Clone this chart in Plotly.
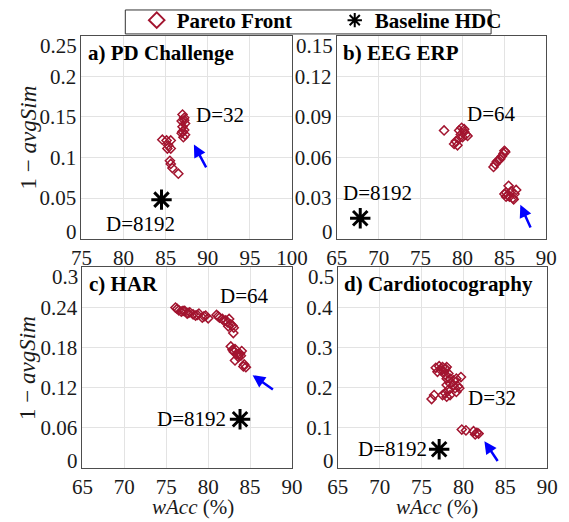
import plotly.graph_objects as go

# ---------------- data ----------------
pd_x = [87.0, 87.2, 86.9, 87.3, 87.0, 87.2, 86.9, 87.3, 87.1, 87.0, 87.2,
        84.6, 85.1, 85.6, 85.3, 85.2, 85.6, 85.5, 85.6, 85.8, 86.5]
pd_y = [0.153, 0.149, 0.145, 0.142, 0.138, 0.134, 0.130, 0.128, 0.125, 0.132, 0.146,
        0.122, 0.121, 0.121, 0.115, 0.111, 0.111, 0.096, 0.092, 0.087, 0.080]

eeg_x = [77.8, 79.6, 79.9, 80.2, 80.4, 79.8, 79.2, 79.0, 79.4, 80.0, 80.6, 80.2, 79.6,
         85.0, 84.9, 84.7, 84.5, 84.1, 83.9, 83.7, 84.3, 85.1,
         85.2, 85.5, 85.6, 86.0, 85.2, 85.8, 86.2, 86.4, 85.4, 85.0, 86.1]
eeg_y = [0.080, 0.080, 0.082, 0.079, 0.077, 0.077, 0.072, 0.070, 0.069, 0.075, 0.076, 0.081, 0.074,
         0.065, 0.063, 0.061, 0.059, 0.057, 0.055, 0.053, 0.058, 0.064,
         0.034, 0.039, 0.031, 0.030, 0.031, 0.035, 0.033, 0.036, 0.032, 0.033, 0.029]

har_x = [76.1, 76.3, 76.5, 76.8, 77.0, 77.2, 77.5, 77.6, 77.8, 78.2, 78.5, 78.7, 78.9, 79.3, 79.5, 79.7, 80.0,
         81.0, 81.2, 81.35, 81.7, 81.9, 82.1, 82.3, 82.4, 82.5, 82.7, 82.9, 83.05, 83.0,
         82.7, 82.9, 83.05, 83.2, 83.4, 83.6, 83.8, 83.9, 84.0, 83.6, 83.2, 84.2, 84.3, 84.5]
har_y = [0.240, 0.238, 0.236, 0.234, 0.235, 0.235, 0.231, 0.232, 0.233, 0.230, 0.228, 0.229, 0.231, 0.225, 0.227, 0.228, 0.224,
         0.229, 0.227, 0.225, 0.223, 0.220, 0.221, 0.218, 0.212, 0.223, 0.215, 0.213, 0.210, 0.202,
         0.182, 0.177, 0.174, 0.178, 0.171, 0.170, 0.171, 0.168, 0.175, 0.166, 0.161, 0.152, 0.155, 0.151]

ctg_x = [76.7, 77.1, 77.5, 77.85, 78.0, 77.3, 77.7, 78.2, 76.9, 77.85, 78.0, 78.4, 78.8, 79.15, 79.7,
         78.4, 78.8, 79.35, 79.0, 79.5, 78.0, 78.2, 77.85, 78.4, 77.5, 78.0, 76.2, 76.5, 79.15,
         79.8, 80.3, 81.2, 81.4, 81.6, 81.8]
ctg_y = [0.250, 0.254, 0.252, 0.248, 0.252, 0.244, 0.240, 0.236, 0.240, 0.232, 0.223, 0.223, 0.219, 0.223, 0.227,
         0.211, 0.207, 0.204, 0.199, 0.199, 0.207, 0.195, 0.186, 0.182, 0.182, 0.178, 0.172, 0.182, 0.190,
         0.096, 0.094, 0.092, 0.084, 0.088, 0.086]

base_x = [84.5, 67.8, 83.8, 77.1]
base_y = [0.048, 0.015, 0.073, 0.047]

panel_titles = ["a) PD Challenge", "b) EEG ERP", "c) HAR", "d) Cardiotocography"]
x_ranges = [[75, 100], [65, 90], [65, 90], [65, 90]]
x_ticks = [[75, 80, 85, 90, 95, 100], [65, 70, 75, 80, 85, 90], [65, 70, 75, 80, 85, 90], [65, 70, 75, 80, 85, 90]]
y_ranges = [[0, 0.25], [0, 0.15], [0, 0.3], [0, 0.5]]
y_ticks = [[0, 0.05, 0.1, 0.15, 0.2, 0.25], [0, 0.03, 0.06, 0.09, 0.12, 0.15],
           [0, 0.06, 0.12, 0.18, 0.24, 0.3], [0, 0.1, 0.2, 0.3, 0.4, 0.5]]
y_ticktext = [["0", "0.05", "0.1", "0.15", "0.2", "0.25"], ["0", "0.03", "0.06", "0.09", "0.12", "0.15"],
              ["0", "0.06", "0.12", "0.18", "0.24", "0.3"], ["0", "0.1", "0.2", "0.3", "0.4", "0.5"]]

# annotation labels: (text, x, y)
d_labels = [[("D=32", 91.5, 0.152), ("D=8192", 82.0, 0.018)],
            [("D=64", 83.5, 0.092), ("D=8192", 69.9, 0.034)],
            [("D=64", 84.3, 0.257), ("D=8192", 78.0, 0.074)],
            [("D=32", 83.35, 0.174), ("D=8192", 71.5, 0.048)]]
# arrows: head x, head y, tail x, tail y
arrows = [(88.35, 0.116, 89.9, 0.086), (86.9, 0.025, 88.2, 0.007),
          (85.3, 0.139, 87.9, 0.116), (82.5, 0.067, 84.2, 0.014)]

series_x = [pd_x, eeg_x, har_x, ctg_x]
series_y = [pd_y, eeg_y, har_y, ctg_y]

# ---------------- layout ----------------
W, H = 569, 522
FONT = "Liberation Serif, Times New Roman, serif"
RED = "#A2142F"
TXT = "#1a1a1a"
px_boxes = [(74, 295, 35, 238), (342, 562, 35, 238), (75, 295, 267, 468), (343, 563, 267, 468)]

fig = go.Figure()
annotations = []
axes = {}
for i in range(4):
    n = "" if i == 0 else str(i + 1)
    xa, ya = "x" + n, "y" + n
    fig.add_trace(go.Scatter(
        x=series_x[i], y=series_y[i], mode="markers", xaxis=xa, yaxis=ya,
        name="Pareto Front", showlegend=(i == 0), legendrank=1,
        marker=dict(symbol="diamond-open", size=7, color=RED, line=dict(width=1.5, color=RED))))
    fig.add_trace(go.Scatter(
        x=[base_x[i]], y=[base_y[i]], mode="markers", xaxis=xa, yaxis=ya,
        name="Baseline HDC", showlegend=(i == 0), legendrank=2,
        marker=dict(symbol="asterisk-open", size=17, color="black", line=dict(width=3, color="black"))))
    l, r, t, b = px_boxes[i]
    # the extreme y labels sit slightly inside the box, as in the source figure
    inner_text = [""] + y_ticktext[i][1:-1] + [""]
    axes["xaxis" + n] = dict(
        domain=[l / W, r / W], range=x_ranges[i], tickvals=x_ticks[i], anchor=ya,
        showgrid=True, gridcolor="#e3e3e3", gridwidth=1, zeroline=False,
        showline=True, linecolor="#4d4d4d", linewidth=1, mirror=True, ticks="",
        tickfont=dict(family=FONT, size=21, color=TXT))
    axes["yaxis" + n] = dict(
        domain=[1 - b / H, 1 - t / H], range=y_ranges[i], tickvals=y_ticks[i], ticktext=inner_text,
        anchor=xa, showgrid=True, gridcolor="#e3e3e3", gridwidth=1, zeroline=False,
        showline=True, linecolor="#4d4d4d", linewidth=1, mirror=True, ticks="",
        tickfont=dict(family=FONT, size=21, color=TXT))
    for lab, yv, ys in [(y_ticktext[i][0], 0, 7), (y_ticktext[i][-1], 1, -10)]:
        annotations.append(dict(text=lab, xref="paper", yref=ya + " domain", x=l / W, y=yv,
                                xanchor="right", yanchor="middle", xshift=-2, yshift=ys,
                                showarrow=False, font=dict(family=FONT, size=21, color=TXT)))
    annotations.append(dict(
        text="<b>" + panel_titles[i] + "</b>", xref=xa + " domain", yref=ya + " domain",
        x=0.02, y=0.985, xanchor="left", yanchor="top", showarrow=False,
        font=dict(family=FONT, size=21, color="black")))
    for txt, tx, ty in d_labels[i]:
        annotations.append(dict(text=txt, xref=xa, yref=ya, x=tx, y=ty, showarrow=False,
                                xanchor="center", yanchor="middle",
                                font=dict(family=FONT, size=21, color="black")))
    hx, hy, tx, ty = arrows[i]
    annotations.append(dict(text="", xref=xa, yref=ya, x=hx, y=hy, axref=xa, ayref=ya, ax=tx, ay=ty,
                            showarrow=True, arrowhead=2, arrowsize=1, arrowwidth=2.5,
                            arrowcolor="#0000ff", standoff=0))

# axis titles
for yc in [(35 + 238) / 2, (267 + 468) / 2]:
    annotations.append(dict(text="1 \u2212 <i>avgSim</i>", xref="paper", yref="paper",
                            x=18 / W, y=1 - yc / H, textangle=-90, showarrow=False,
                            xanchor="center", yanchor="middle",
                            font=dict(family=FONT, size=23, color=TXT)))
for xc in [191, 447]:
    annotations.append(dict(text="<i>wAcc</i> (%)", xref="paper", yref="paper",
                            x=xc / W, y=1 - 507 / H, showarrow=False,
                            xanchor="center", yanchor="middle",
                            font=dict(family=FONT, size=21, color=TXT)))

fig.update_layout(
    width=W, height=H, margin=dict(l=0, r=0, t=0, b=0),
    paper_bgcolor="white", plot_bgcolor="white",
    annotations=annotations,
    shapes=[dict(type="rect", xref="paper", yref="paper",
                 x0=120 / W, x1=504 / W, y0=1 - 33 / H, y1=1 - 9 / H,
                 line=dict(color="#333333", width=1), fillcolor="rgba(0,0,0,0)", layer="above")],
    legend=dict(orientation="h", x=132 / W, y=1 + 1 / H, xanchor="left", yanchor="top",
                borderwidth=0, bgcolor="rgba(0,0,0,0)",
                font=dict(family=FONT, size=21, color="black", weight="bold"),
                entrywidth=153, entrywidthmode="pixels", itemsizing="constant"),
    **axes,
)

fig.write_html("out.html", config={"displayModeBar": False},
               post_script="document.body.style.margin='0';document.body.style.overflow='hidden';")
